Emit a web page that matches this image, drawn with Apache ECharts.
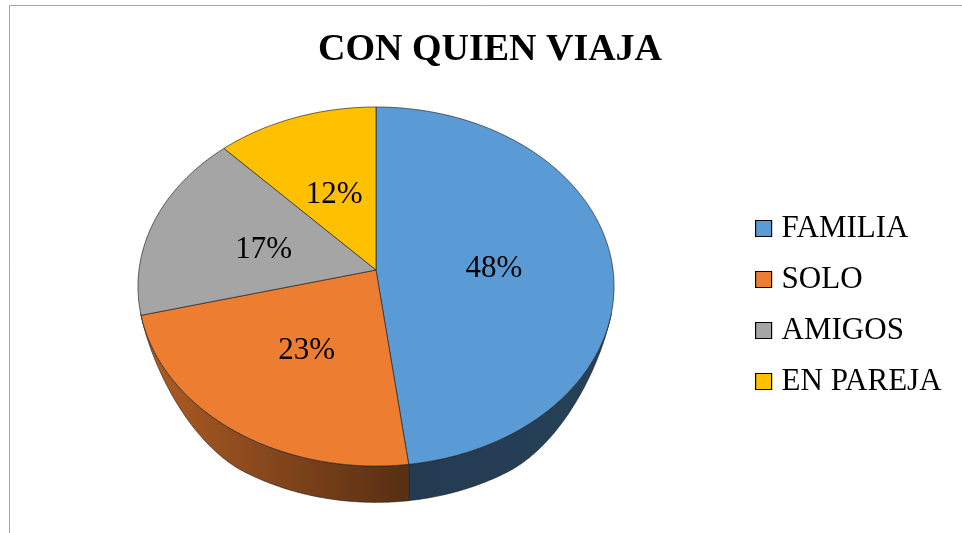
<!DOCTYPE html>
<html>
<head>
<meta charset="utf-8">
<title>CON QUIEN VIAJA</title>
<script src="https://cdn.jsdelivr.net/npm/echarts@6/dist/echarts.min.js"></script>
<style>
  html, body { margin: 0; padding: 0; background: #fff; }
  #chart { width: 962px; height: 533px; }
</style>
</head>
<body>
<div id="chart"></div>
<script>
const categories = ['FAMILIA', 'SOLO', 'AMIGOS', 'EN PAREJA'];
const percents = [48, 23, 17, 12];
const sliceColors = ['#5b9bd5', '#ed7d31', '#a5a5a5', '#ffc000'];

// geometria del pastel 3d (perspectiva tipo excel)
const CX = 376, CY = 270, RX = 237, RY = 178, K = 0.092, DEPTH = 33;
const SIDE_FROM = Math.PI / 2 + 0.24, SIDE_TO = Math.PI * 1.5 - 0.24, TAPER = 0.8;

// theta: radianes en sentido horario desde arriba
function project(theta, r, drop) {
    const x = r * Math.sin(theta), y = r * Math.cos(theta);
    const f = 1 / (1 + K * y);
    return [CX + RX * x * f, CY + (drop - RY * y) * f];
}

// grosor del borde, se afina suave hacia la silueta
function dropAt(theta) {
    const d = Math.min(theta - SIDE_FROM, SIDE_TO - theta);
    const s = Math.max(0, Math.min(1, d / TAPER));
    return DEPTH * s * s * (3 - 2 * s);
}

function arc(a, b, withDrop) {
    const n = Math.max(2, Math.ceil(Math.abs(b - a) / 0.01));
    const pts = [];
    for (let j = 0; j <= n; j++) {
        const t = a + (b - a) * j / n;
        pts.push(project(t, 1, withDrop ? dropAt(t) : 0));
    }
    return pts;
}

function shade(hex, k) {
    const v = parseInt(hex.slice(1), 16);
    const r = Math.round(((v >> 16) & 255) * k);
    const g = Math.round(((v >> 8) & 255) * k);
    const b = Math.round((v & 255) * k);
    return 'rgb(' + r + ',' + g + ',' + b + ')';
}

function sideFill(color) {
    return new echarts.graphic.LinearGradient(137, 0, 614, 0, [
        { offset: 0, color: shade(color, 0.75) },
        { offset: 0.55, color: shade(color, 0.38) },
        { offset: 1, color: shade(color, 0.42) }
    ], true);
}

const starts = [];
percents.reduce((acc, v) => { starts.push(acc); return acc + v; }, 0);

function renderSlice(params, api) {
    const i = params.seriesIndex;
    const a = api.value(0) / 100 * 2 * Math.PI;
    const b = api.value(1) / 100 * 2 * Math.PI;
    const children = [];
    const lo = Math.max(a, SIDE_FROM);
    const hi = Math.min(b, SIDE_TO);
    if (lo < hi) {
        children.push({
            type: 'polygon', z2: 1,
            shape: { points: arc(lo, hi, false).concat(arc(hi, lo, true)) },
            style: { fill: sideFill(sliceColors[i]), stroke: '#1a1a1a', lineWidth: 0.6 }
        });
    }
    children.push({
        type: 'polygon', z2: 5,
        shape: { points: [[CX, CY]].concat(arc(a, b, false)) },
        style: { fill: sliceColors[i], stroke: '#262626', lineWidth: 0.7 }
    });
    const p = project((a + b) / 2, 0.5, 0);
    children.push({
        type: 'text', z2: 10, x: p[0], y: p[1] + 4,
        style: {
            text: percents[i] + '%', font: '31px "Liberation Serif"', fill: '#000',
            align: 'center', verticalAlign: 'middle'
        }
    });
    return { type: 'group', children: children };
}

const myChart = echarts.init(document.getElementById('chart'));
const option = {
    animation: false,
    backgroundColor: '#fff',
    title: {
        text: 'CON QUIEN VIAJA',
        left: 490,
        textAlign: 'center',
        top: 31,
        padding: 0,
        textStyle: { fontFamily: 'Liberation Serif', fontWeight: 'bold', fontSize: 38, color: '#000' }
    },
    legend: {
        orient: 'vertical',
        left: 755,
        top: 213,
        padding: 0,
        itemWidth: 16,
        itemHeight: 16,
        itemGap: 20,
        icon: 'rect',
        itemStyle: { borderColor: '#000', borderWidth: 1.2 },
        textStyle: { fontFamily: 'Liberation Serif', fontSize: 31, color: '#000', lineHeight: 31, padding: [0, 0, 0, 5] },
        data: categories
    },
    graphic: [{
        type: 'rect', silent: true,
        shape: { x: 9.5, y: 5.5, width: 1000, height: 600 },
        style: { fill: 'none', stroke: '#a6a6a6', lineWidth: 1 }
    }],
    series: categories.map((name, i) => ({
        type: 'custom',
        name: name,
        coordinateSystem: 'none',
        silent: true,
        itemStyle: { color: sliceColors[i] },
        renderItem: renderSlice,
        data: [[starts[i], starts[i] + percents[i]]]
    }))
};
myChart.setOption(option);
</script>
</body>
</html>
